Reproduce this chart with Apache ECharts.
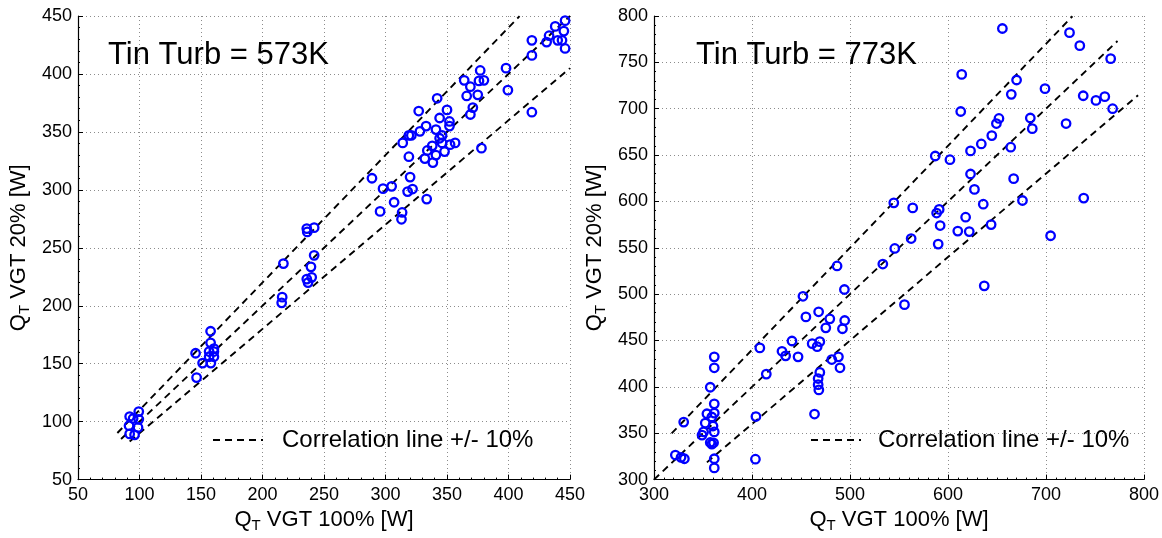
<!DOCTYPE html>
<html>
<head>
<meta charset="utf-8">
<script src="https://cdn.jsdelivr.net/npm/echarts@6/dist/echarts.min.js"></script>
<style>
  html, body { margin: 0; padding: 0; background: #ffffff; }
  #chart { width: 1162px; height: 538px; }
</style>
</head>
<body>
<div id="chart"></div>
<script>
// Turbine heat flow: VGT 20% vs VGT 100% opening, two turbine inlet temperatures.
const FONT = "'Liberation Sans', Arial, Helvetica, sans-serif";

// Tin Turb = 573 K
const turb573X = [446, 438, 433, 445, 440, 443.5, 431, 446, 419, 419, 398, 399.5, 419, 377, 364, 376, 380, 369, 366, 375,
  371, 369, 342, 350, 327, 352, 352, 344, 333, 328, 341, 319, 321, 314, 346, 344, 338, 346, 352.5, 356.6,
  334, 341, 348, 332, 319, 338.5, 378, 289, 320, 298, 305, 318, 322, 333.5, 295.6, 307, 313.5, 313, 236, 236.4,
  242, 217, 242, 239.4, 240, 236, 237, 216, 215.6, 157.8, 157.8, 160.5, 160.5, 160.5, 156.6, 156.6, 158, 145.6, 151.3, 146.4,
  99.4, 92, 94.8, 99.4, 91.5, 98.8, 92, 96];
const turb573Y = [446, 441, 433, 437, 429, 429, 427.5, 422, 429, 416, 405, 386, 367, 403, 394.5, 394, 394.5, 389, 381, 382,
  371, 365, 379, 369, 368, 359, 355, 362, 355, 350.5, 352, 347, 347, 340.5, 347, 344.5, 338, 340.5, 339, 340.5,
  334, 330, 333, 327, 328.6, 323.5, 336, 310, 311, 301, 303, 298.5, 300.7, 292, 281.4, 289.3, 280.5, 274.6, 266.6, 263.7,
  267.4, 236.4, 243.5, 233.6, 224.5, 223, 220, 207.4, 202.5, 178, 168, 163, 160.5, 156, 160.5, 156, 150.5, 159, 150.5, 138,
  108.7, 104.4, 102.7, 102, 96.5, 95, 89.4, 88.6];

// Tin Turb = 773 K
const turb773X = [655.5, 724, 734.5, 766, 614, 670, 664.6, 699, 738, 751, 760, 768, 613, 652, 649.4, 684, 686, 720.5, 644.7, 634,
  623, 664, 587, 602, 623, 667, 627, 636, 676, 738.5, 544.7, 564, 591, 588.4, 592, 618, 610, 621.7, 644, 590,
  704.7, 562.4, 545.7, 533.5, 637, 555.6, 486.8, 494.3, 452, 468, 455, 479.4, 475.3, 494.6, 492.3, 440.8, 461.4, 469.2, 466.5, 430.6,
  434.3, 447, 408, 481.4, 488.2, 489.8, 469.2, 467.5, 467.5, 468.2, 463.8, 414.6, 404, 403.5, 361.5, 361.5, 357.4, 361.5, 354, 361.5,
  330.3, 352.3, 359, 360.2, 350.6, 349, 361.5, 357.4, 360.8, 359, 321.8, 327.6, 331, 361.5, 361.5];
const turb773Y = [786.5, 782, 768, 754, 737, 731, 715.5, 721.6, 714, 709, 713, 700, 697, 689.5, 684, 690, 678.5, 684, 671, 662,
  654.5, 658.5, 649, 645, 629.6, 624.6, 613, 597, 601, 603.6, 598.5, 593, 591.4, 587.5, 574, 583, 568, 567.5, 575, 554,
  563, 560, 549.3, 532.5, 509, 488.7, 530.4, 505, 497.7, 481, 475.5, 473.4, 463.7, 471.6, 462.7, 449.5, 446.6, 448.8, 443.4, 438.4,
  433.5, 432.4, 442, 429.5, 432.4, 420.6, 415.6, 409, 402.4, 396.7, 370.7, 413.8, 368, 322, 432.4, 420.6, 399.6, 381.7, 371, 371.7,
  362, 361, 367.5, 357.8, 351.4, 348, 351.4, 340, 339.7, 338.3, 326.5, 324, 322.5, 322.5, 312.6];

// Correlation line (y = x) and its +/- 10% band, with the x span each line covers
const corrFactors = [1.1, 1.0, 0.9];
const corrSpan573 = [[82, 409], [85, 450], [92, 450]];
const corrSpan773 = [[318, 727], [300, 773], [354, 794]];

// Axis ranges and tick steps
const axis573 = { min: 50, max: 450, step: 50 };
const axis773X = { min: 300, max: 800, step: 100 };
const axis773Y = { min: 300, max: 800, step: 50 };

const titles = ['Tin Turb = 573K', 'Tin Turb = 773K'];
const legendName = 'Correlation line +/- 10%';
const xName = '{a|Q}{b|T}{a| VGT 100% [W]}';
const yName = '{a|Q}{b|T}{a| VGT 20% [W]}';

const nameRich = {
  a: { fontFamily: FONT, fontSize: 22, color: '#000' },
  b: { fontFamily: FONT, fontSize: 15, color: '#000', padding: [12, 0, 0, 0] }
};

function pairs(xs, ys) { return xs.map((x, i) => [x, ys[i]]); }

function makeAxis(range, gridIndex, name, isY, minorSplit) {
  return {
    type: 'value',
    gridIndex: gridIndex,
    min: range.min, max: range.max, interval: range.step,
    name: name,
    nameLocation: 'middle',
    nameGap: isY ? 46 : 22,
    nameRotate: isY ? 90 : 0,
    nameTextStyle: { rich: nameRich },
    axisLine: { show: true, onZero: false, lineStyle: { color: '#000', width: 1.2 } },
    axisTick: { show: true, inside: true, length: 5, lineStyle: { color: '#000', width: 1 } },
    minorTick: { show: true, splitNumber: minorSplit, length: 2, lineStyle: { color: '#000', width: 1 } },
    axisLabel: { color: '#000', fontFamily: FONT, fontSize: 18, margin: 6 },
    splitLine: { show: true, lineStyle: { color: '#8c8c8c', width: 1, type: [1, 3] } }
  };
}

function corrSeries(spans, axisIdx) {
  return spans.map((span, i) => ({
    name: legendName,
    type: 'line',
    xAxisIndex: axisIdx, yAxisIndex: axisIdx,
    data: span.map(x => [x, x * corrFactors[i]]),
    symbol: 'none',
    silent: true,
    itemStyle: { color: '#000' },
    lineStyle: { color: '#000', width: 1.9, type: [7, 5] },
    z: 1
  }));
}

function scatterSeries(xs, ys, axisIdx) {
  return {
    name: 'points' + axisIdx,
    type: 'scatter',
    xAxisIndex: axisIdx, yAxisIndex: axisIdx,
    data: pairs(xs, ys),
    symbol: 'circle',
    symbolSize: 8.5,
    itemStyle: { color: 'rgba(0,0,0,0)', borderColor: '#0000ff', borderWidth: 2.3, opacity: 1 },
    z: 3
  };
}

function legendBlock(left, textGap) {
  return {
    data: [legendName], left: left, top: 428, padding: 0, itemWidth: 50, itemHeight: 12,
    selectedMode: false,
    itemStyle: { color: 'rgba(0,0,0,0)', borderColor: 'rgba(0,0,0,0)', borderWidth: 0 },
    textStyle: { fontFamily: FONT, fontSize: 24, color: '#000', padding: [0, 0, 0, textGap] }
  };
}

const chart = echarts.init(document.getElementById('chart'), null, { renderer: 'canvas' });

chart.setOption({
  animation: false,
  backgroundColor: '#ffffff',
  title: [
    { text: titles[0], left: 108, top: 40, padding: 0,
      textStyle: { fontFamily: FONT, fontSize: 31, fontWeight: 'normal', color: '#000' } },
    { text: titles[1], left: 696, top: 40, padding: 0,
      textStyle: { fontFamily: FONT, fontSize: 31, fontWeight: 'normal', color: '#000' } }
  ],
  legend: [legendBlock(212, 14), legendBlock(810, 12)],
  grid: [
    { left: 78, top: 16, width: 492, height: 468 },
    { left: 654, top: 16, width: 492, height: 468 }
  ],
  xAxis: [
    makeAxis(axis573, 0, xName, false, 5),
    makeAxis(axis773X, 1, xName, false, 10)
  ],
  yAxis: [
    makeAxis(axis573, 0, yName, true, 5),
    makeAxis(axis773Y, 1, yName, true, 5)
  ],
  series: [
    ...corrSeries(corrSpan573, 0),
    ...corrSeries(corrSpan773, 1),
    scatterSeries(turb573X, turb573Y, 0),
    scatterSeries(turb773X, turb773Y, 1)
  ]
});
</script>
</body>
</html>
